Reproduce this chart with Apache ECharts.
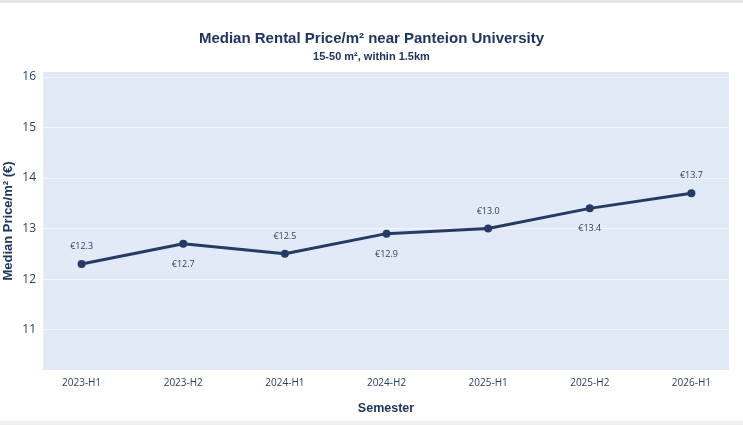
<!DOCTYPE html>
<html><head><meta charset="utf-8">
<script src="https://cdn.jsdelivr.net/npm/echarts@6/dist/echarts.min.js"></script>
<style>html,body{margin:0;padding:0;background:#fff}#c{width:743px;height:425px}</style>
</head><body><div id="c"></div>
<script>
const categories = ['2023-H1','2023-H2','2024-H1','2024-H2','2025-H1','2025-H2','2026-H1'];
const medianPrice = [12.3, 12.7, 12.5, 12.9, 13.0, 13.4, 13.7];
const yTicks = [11, 12, 13, 14, 15, 16];

const chart = echarts.init(document.getElementById('c'), null, {renderer: 'canvas'});
const navy = '#253b63';
const tickColor = '#2a3f5f';
chart.setOption({
  backgroundColor: '#fff',
  animation: false,
  title: [{
    text: 'Median Rental Price/m² near Panteion University',
    left: 'center', top: 26,
    textStyle: {fontFamily: 'Liberation Sans', fontWeight: 'bold', fontSize: 15, color: '#1f3560'}
  }, {
    text: '15-50 m², within 1.5km',
    left: 'center', top: 46,
    textStyle: {fontFamily: 'Liberation Sans', fontWeight: 'bold', fontSize: 11, color: '#1f3560'}
  }],
  grid: {left: 43, right: 14, top: 72, bottom: 55, show: true, backgroundColor: '#e3eaf7', borderWidth: 0, outerBoundsMode: 'none', containLabel: false},
  xAxis: {
    type: 'value', min: -0.38, max: 6.37,
    axisLine: {show: false}, axisTick: {show: false},
    splitLine: {show: false},
    axisLabel: {
      customValues: categories.map((c, i) => i),
      formatter: v => categories[Math.round(v)] || '',
      fontFamily: 'Open Sans', fontSize: 10, color: tickColor, margin: 8
    },
    name: 'Semester', nameLocation: 'middle', nameGap: 32, nameMoveOverlap: false,
    nameTextStyle: {fontFamily: 'Liberation Sans', fontWeight: 'bold', fontSize: 12.5, color: '#1f3560'}
  },
  yAxis: {
    type: 'value', min: 10.2, max: 16.1,
    axisLine: {show: false},
    axisTick: {show: false, customValues: yTicks},
    axisLabel: {customValues: yTicks, fontFamily: 'Open Sans', fontSize: 12, color: tickColor, margin: 7},
    splitLine: {show: true, lineStyle: {color: '#f4f6fb', width: 1}},
    name: 'Median Price/m² (€)', nameLocation: 'middle', nameGap: 28, nameRotate: 90, nameMoveOverlap: false,
    nameTextStyle: {fontFamily: 'Liberation Sans', fontWeight: 'bold', fontSize: 13, color: '#1f3560'}
  },
  series: [{
    type: 'line',
    data: medianPrice.map((v, i) => ({
      value: [i, v],
      label: {position: i % 2 === 0 ? 'top' : 'bottom', distance: i % 2 === 0 ? 9 : 12}
    })),
    symbol: 'circle', symbolSize: 8,
    itemStyle: {color: navy},
    lineStyle: {color: navy, width: 3},
    label: {
      show: true,
      formatter: p => '€' + p.value[1].toFixed(1),
      fontFamily: 'Open Sans', fontSize: 9, color: tickColor
    }
  }],
  graphic: [
    {type: 'rect', shape: {x: 0, y: 0, width: 743, height: 3}, style: {fill: '#e6e6e6'}, silent: true},
    {type: 'rect', shape: {x: 0, y: 421, width: 743, height: 4}, style: {fill: '#eeeeee'}, silent: true}
  ]
});
</script></body></html>
